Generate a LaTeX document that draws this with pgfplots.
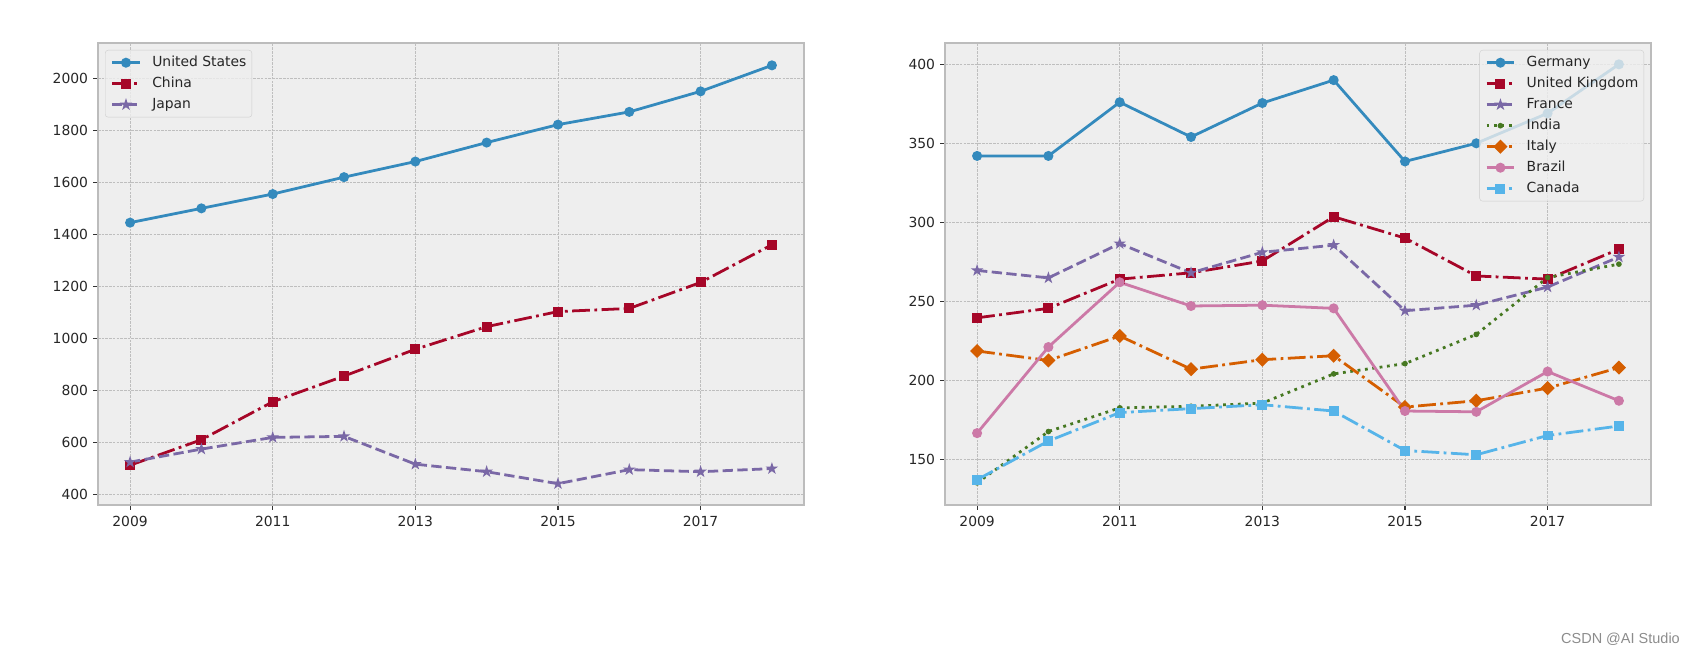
\documentclass[border=0pt]{standalone}
\usepackage{fontspec}
\setmainfont{DejaVu Sans}
\newfontfamily\wmfont{Liberation Sans}
\usepackage{pgfplots}
\pgfplotsset{compat=1.18}

% bmh colour cycle
\definecolor{cBlue}{HTML}{348ABD}
\definecolor{cRed}{HTML}{A60628}
\definecolor{cPurple}{HTML}{7A68A6}
\definecolor{cGreen}{HTML}{467821}
\definecolor{cOrange}{HTML}{D55E00}
\definecolor{cPink}{HTML}{CC79A7}
\definecolor{cSky}{HTML}{56B4E9}
\definecolor{cFace}{HTML}{EEEEEE}
\definecolor{cEdge}{HTML}{BCBCBC}
\definecolor{cGrid}{HTML}{B2B2B2}
\definecolor{cLegEdge}{HTML}{CCCCCC}

% filled five-point star like matplotlib's '*'
\pgfdeclareplotmark{fstar}{%
  \pgfpathmoveto{\pgfpointpolar{90}{\pgfplotmarksize}}%
  \pgfpathlineto{\pgfpointpolar{126}{0.382\pgfplotmarksize}}%
  \pgfpathlineto{\pgfpointpolar{162}{\pgfplotmarksize}}%
  \pgfpathlineto{\pgfpointpolar{198}{0.382\pgfplotmarksize}}%
  \pgfpathlineto{\pgfpointpolar{234}{\pgfplotmarksize}}%
  \pgfpathlineto{\pgfpointpolar{270}{0.382\pgfplotmarksize}}%
  \pgfpathlineto{\pgfpointpolar{306}{\pgfplotmarksize}}%
  \pgfpathlineto{\pgfpointpolar{342}{0.382\pgfplotmarksize}}%
  \pgfpathlineto{\pgfpointpolar{18}{\pgfplotmarksize}}%
  \pgfpathlineto{\pgfpointpolar{54}{0.382\pgfplotmarksize}}%
  \pgfpathclose
  \pgfusepathqfillstroke}

\tikzset{
  mdash/.style={dash pattern=on 10.3pt off 4.4pt},
  mdashdot/.style={dash pattern=on 17.8pt off 4.4pt on 2.8pt off 4.4pt},
  mdot/.style={dash pattern=on 2.8pt off 4.6pt},
}

\pgfplotsset{
  legend image code/.code={\draw[mark repeat=2,mark phase=2,#1,fill opacity=1]
    plot coordinates {(0pt,0pt) (13.9pt,0pt) (27.8pt,0pt)};},
  bmh/.style={
    scale only axis, width=706pt, height=462pt, anchor=south west,
    xmin=2008.55, xmax=2018.45,
    xtick={2009,2011,2013,2015,2017},
    axis background/.style={fill=cFace},
    axis line style={draw=cEdge, line width=1.4pt},
    grid=major,
    major grid style={draw=cGrid!85, line width=0.55pt, dash pattern=on 2.6pt off 1.1pt},
    tick pos=left, tick align=outside, major tick length=4.9pt,
    tick style={draw=black!80, line width=1.1pt},
    ticklabel style={font=\fontsize{13.9}{16}\selectfont, text=black!85},
    xticklabel style={yshift=-3pt},
    yticklabel style={xshift=-1.5pt},
    /pgf/number format/assume math mode=true,
    /pgf/number format/1000 sep={},
    legend cell align=left,
    legend style={fill=cFace, fill opacity=0.8, text opacity=1,
      draw=cLegEdge, rounded corners=3pt,
      inner sep=5.5pt, row sep=7pt,
      font=\fontsize{13.9}{16}\selectfont, text=black!85,
      nodes={inner sep=0pt, text height=10.5pt, text depth=3.5pt},
      /tikz/every odd column/.append style={column sep=11pt}},
  },
  pcirc/.style={line width=2.78pt, mark=*, mark size=4.3pt, mark options={solid, draw=#1, fill=#1, line width=1.39pt}},
  psq/.style={line width=2.78pt, mark=square*, mark size=4.3pt, mark options={solid, draw=#1, fill=#1, line width=1.39pt}},
  pstar/.style={line width=2.78pt, mark=fstar, mark size=4.3pt, mark options={solid, draw=#1, fill=#1, line width=1.39pt}},
  pdia/.style={line width=2.78pt, mark=square*, mark size=4.3pt, mark options={solid, rotate=45, draw=#1, fill=#1, line width=1.39pt}},
  ppt/.style={line width=2.78pt, mark=*, mark size=2.1pt, mark options={solid, draw=#1, fill=#1, line width=1.39pt}},
}

\begin{document}
\begin{tikzpicture}[x=1pt,y=1pt]
\path (0,0) rectangle (1696,654);

% left panel
\begin{axis}[bmh, at={(98pt,149pt)},
  ymin=359, ymax=2136, ytick={400,600,...,2000},
  legend style={at={(0,1)}, anchor=north west, xshift=7pt, yshift=-7pt}]
\addplot[cBlue, solid, pcirc=cBlue] coordinates {
  (2009,1445) (2010,1500) (2011,1555) (2012,1620) (2013,1680)
  (2014,1753) (2015,1822) (2016,1871) (2017,1950) (2018,2050)};
\addlegendentry{United States}
\addplot[cRed, mdashdot, psq=cRed] coordinates {
  (2009,512) (2010,610) (2011,756) (2012,855) (2013,958)
  (2014,1045) (2015,1103) (2016,1115) (2017,1215) (2018,1360)};
\addlegendentry{China}
\addplot[cPurple, mdash, pstar=cPurple] coordinates {
  (2009,524) (2010,574) (2011,619) (2012,623) (2013,516)
  (2014,487) (2015,441) (2016,495) (2017,487) (2018,499)};
\addlegendentry{Japan}
\end{axis}

% right panel
\begin{axis}[bmh, at={(945pt,149pt)},
  ymin=121, ymax=413.5, ytick={150,200,...,400},
  legend style={at={(1,1)}, anchor=north east, xshift=-7pt, yshift=-7pt}]
\addplot[cBlue, solid, pcirc=cBlue] coordinates {
  (2009,342) (2010,342) (2011,376) (2012,354) (2013,375.5)
  (2014,390) (2015,338.5) (2016,350) (2017,369) (2018,400)};
\addlegendentry{Germany}
\addplot[cRed, mdashdot, psq=cRed] coordinates {
  (2009,239.5) (2010,245.5) (2011,264) (2012,268) (2013,275.5)
  (2014,303.5) (2015,290) (2016,266) (2017,264) (2018,283)};
\addlegendentry{United Kingdom}
\addplot[cPurple, mdash, pstar=cPurple] coordinates {
  (2009,269.5) (2010,264.8) (2011,286.5) (2012,268) (2013,281)
  (2014,285.5) (2015,244) (2016,247.5) (2017,259) (2018,278)};
\addlegendentry{France}
\addplot[cGreen, mdot, ppt=cGreen] coordinates {
  (2009,135) (2010,167.5) (2011,182.5) (2012,183.5) (2013,185.5)
  (2014,204) (2015,210.5) (2016,229) (2017,265) (2018,273.5)};
\addlegendentry{India}
\addplot[cOrange, mdashdot, pdia=cOrange] coordinates {
  (2009,218.5) (2010,212.5) (2011,228) (2012,207) (2013,213)
  (2014,215.5) (2015,183) (2016,187) (2017,195) (2018,208)};
\addlegendentry{Italy}
\addplot[cPink, solid, pcirc=cPink] coordinates {
  (2009,166.5) (2010,221) (2011,262) (2012,247) (2013,247.5)
  (2014,245.5) (2015,180.5) (2016,180) (2017,205.5) (2018,187)};
\addlegendentry{Brazil}
\addplot[cSky, mdashdot, psq=cSky] coordinates {
  (2009,137) (2010,161.5) (2011,179.5) (2012,182) (2013,184.5)
  (2014,180.5) (2015,155.5) (2016,152.8) (2017,165) (2018,171)};
\addlegendentry{Canada}
\end{axis}

\node[anchor=east, inner sep=0pt, font=\wmfont\fontsize{14.5}{16}\selectfont, text=black!45]
  at (1680,15) {CSDN @AI Studio};
\end{tikzpicture}
\end{document}
